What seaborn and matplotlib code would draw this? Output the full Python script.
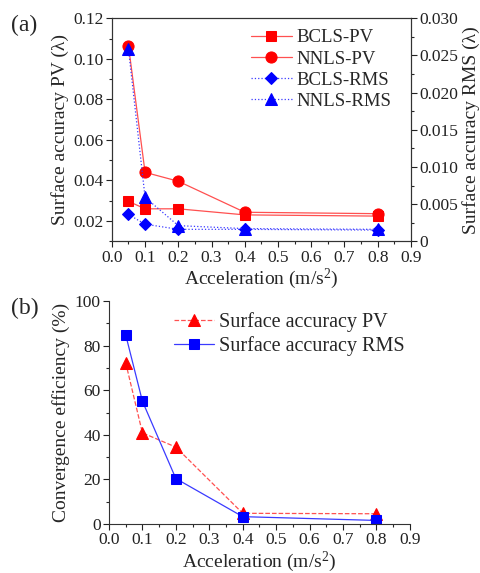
import numpy as np
import pandas as pd
import matplotlib
matplotlib.use("Agg")
import matplotlib.pyplot as plt
import seaborn as sns
from matplotlib.ticker import AutoMinorLocator, MultipleLocator

sns.set_theme(style="ticks")
plt.rcParams['font.family'] = ['Liberation Serif', 'DejaVu Serif']
plt.rcParams['mathtext.fontset'] = 'custom'
plt.rcParams['mathtext.rm'] = 'Liberation Serif'
plt.rcParams['mathtext.it'] = 'Liberation Serif:italic'

# ---- data ----
accel = [0.05, 0.1, 0.2, 0.4, 0.8]
bcls_pv = [0.0297, 0.0260, 0.0260, 0.0230, 0.0224]
nnls_pv = [0.1065, 0.0440, 0.0396, 0.0243, 0.0236]
bcls_rms = [0.0036, 0.0023, 0.0016, 0.0016, 0.0015]
nnls_rms = [0.0259, 0.0059, 0.0021, 0.0017, 0.0016]

eff_pv = [72.4, 40.9, 34.5, 4.8, 4.6]
eff_rms = [84.9, 55.1, 20.4, 3.3, 1.6]

xticks = [0.0, 0.1, 0.2, 0.3, 0.4, 0.5, 0.6, 0.7, 0.8, 0.9]
xticklabels = ['0.0', '0.1', '0.2', '0.3', '0.4', '0.5', '0.6', '0.7', '0.8', '0.9']
pv_ticks = [0.02, 0.04, 0.06, 0.08, 0.10, 0.12]
pv_labels = ['0.02', '0.04', '0.06', '0.08', '0.10', '0.12']
rms_ticks = [0, 0.005, 0.010, 0.015, 0.020, 0.025, 0.030]
rms_labels = ['0', '0.005', '0.010', '0.015', '0.020', '0.025', '0.030']
eff_ticks = [0, 20, 40, 60, 80, 100]

RED = '#FF0000'
BLUE = '#0000FF'
LRED = '#FF5050'
LBLUE = '#3A3AFF'

fig = plt.figure(figsize=(4.8, 5.73), dpi=100)
ax1 = fig.add_axes([0.233, 0.579, 0.623, 0.389])
ax2 = ax1.twinx()
axb = fig.add_axes([0.227, 0.0855, 0.627, 0.389])

ms = 7
lw = 0.9
sns.lineplot(x=accel, y=bcls_pv, ax=ax1, color=LRED, lw=lw, marker='s', ms=ms,
             mfc=RED, mec=RED, label='BCLS-PV', legend=False)
sns.lineplot(x=accel, y=nnls_pv, ax=ax1, color=LRED, lw=lw, marker='o', ms=ms+1,
             mfc=RED, mec=RED, label='NNLS-PV', legend=False)
sns.lineplot(x=accel, y=bcls_rms, ax=ax2, color=LBLUE, lw=lw, ls=':', marker='D', ms=ms-0.5,
             mfc=BLUE, mec=BLUE, label='BCLS-RMS', legend=False)
sns.lineplot(x=accel, y=nnls_rms, ax=ax2, color=LBLUE, lw=lw, ls=':', marker='^', ms=ms+1,
             mfc=BLUE, mec=BLUE, label='NNLS-RMS', legend=False)

ax1.set_xlim(0, 0.9)
ax1.set_ylim(0.01, 0.12)
ax2.set_ylim(0, 0.030)
ax1.set_xticks(xticks)
ax1.set_xticklabels(xticklabels)
ax1.xaxis.set_minor_locator(AutoMinorLocator(2))
ax1.set_yticks(pv_ticks)
ax1.set_yticklabels(pv_labels)
ax1.yaxis.set_minor_locator(MultipleLocator(0.01))
ax2.set_yticks(rms_ticks)
ax2.set_yticklabels(rms_labels)
ax2.yaxis.set_minor_locator(AutoMinorLocator(2))

lab_fs = 14
tick_fs = 12.5
ax1.set_xlabel('Acceleration (m/s$^2$)', fontsize=lab_fs, labelpad=1)
ax1.set_ylabel('Surface accuracy PV (λ)', fontsize=lab_fs, labelpad=3)
ax2.set_ylabel('Surface accuracy RMS (λ)', fontsize=lab_fs, labelpad=3)

for a in (ax1, ax2, axb):
    a.tick_params(which='major', length=4, width=0.8, labelsize=tick_fs, pad=2, colors='#222222')
    a.tick_params(which='minor', length=2, width=0.8)
    for s in a.spines.values():
        s.set_linewidth(0.8)
        s.set_color('#333333')

h1, l1 = ax1.get_legend_handles_labels()
h2, l2 = ax2.get_legend_handles_labels()
ax2.legend(h1 + h2, l1 + l2, loc='upper right', frameon=False, fontsize=13.5,
           handlelength=2.2, labelspacing=0.22, handletextpad=0.25,
           bbox_to_anchor=(0.96, 0.985), borderaxespad=0.0)

# ---- bottom panel ----
sns.lineplot(x=accel, y=eff_pv, ax=axb, color=LRED, lw=lw, ls='--', marker='^', ms=ms+1.5,
             mfc=RED, mec=RED, label='Surface accuracy PV', legend=False)
sns.lineplot(x=accel, y=eff_rms, ax=axb, color=LBLUE, lw=lw, marker='s', ms=ms,
             mfc=BLUE, mec=BLUE, label='Surface accuracy RMS', legend=False)
axb.set_xlim(0, 0.9)
axb.set_ylim(0, 100)
axb.set_xticks(xticks)
axb.set_xticklabels(xticklabels)
axb.xaxis.set_minor_locator(AutoMinorLocator(2))
axb.set_yticks(eff_ticks)
axb.yaxis.set_minor_locator(AutoMinorLocator(2))
axb.spines['top'].set_visible(False)
axb.spines['right'].set_visible(False)
axb.set_xlabel('Acceleration (m/s$^2$)', fontsize=lab_fs, labelpad=1)
axb.set_ylabel('Convergence efficiency (%)', fontsize=lab_fs, labelpad=3)
axb.legend(loc='upper right', frameon=False, fontsize=14.5, handlelength=2.0,
           labelspacing=0.2, borderaxespad=0.0, handletextpad=0.25,
           bbox_to_anchor=(1.01, 0.985))

fig.text(0.022, 0.945, '(a)', fontsize=17)
fig.text(0.022, 0.452, '(b)', fontsize=17)

fig.savefig('out.png', dpi=100)
